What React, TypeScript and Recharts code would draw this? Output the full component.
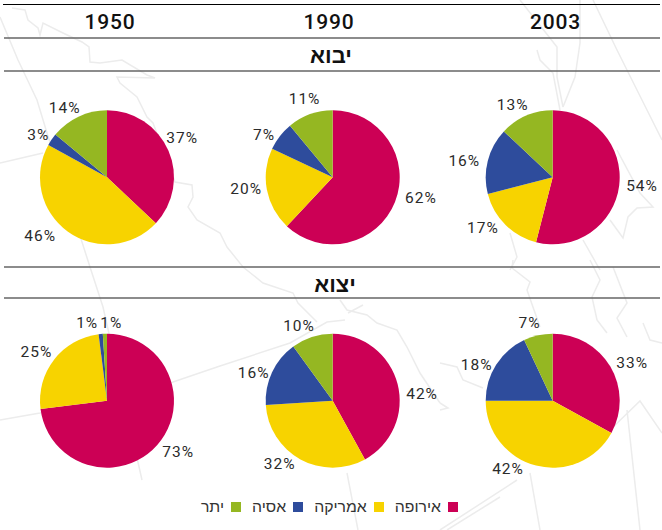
import { Cell, Legend, Pie, PieChart } from "recharts";

const REGIONS = ["אירופה", "אמריקה", "אסיה", "יתר"];
const COLORS = ["#cc0055", "#f7d300", "#2e4c9c", "#95b722"];

const YEARS = ["1950", "1990", "2003"];
const IMPORT_TITLE = "יבוא";
const EXPORT_TITLE = "יצוא";

const import1950 = [37, 46, 3, 14];
const import1990 = [62, 20, 7, 11];
const import2003 = [54, 17, 16, 13];
const export1950 = [73, 25, 1, 1];
const export1990 = [42, 32, 16, 10];
const export2003 = [33, 42, 18, 7];

const WIDTH = 662;
const HEIGHT = 530;
const RADIAN = Math.PI / 180;
const OUTER_RADIUS = 67;
const LABEL_GAP = 16;
const FONT = "'Liberation Sans', Arial, sans-serif";
const LABEL_FONT = "Roboto, 'Liberation Sans', sans-serif";

// where each pie sits, plus hand nudges so the labels land like the original
const PIES = [
  { id: "i1950", values: import1950, cx: 107, cy: 177.3, nudge: [[-1, -6], [-18, -8], [0, 4], [-7, 6]] },
  { id: "i1990", values: import1990, cx: 332.7, cy: 177.3, nudge: [[11, -10], [-5, -4], [-3, 9], [0, 0]] },
  { id: "i2003", values: import2003, cx: 552.7, cy: 177.3, nudge: [[7, -2], [-11, -8], [-8, 4], [-7, 4]] },
  { id: "e1950", values: export1950, cx: 107, cy: 400.7, nudge: [[9, -4], [-5, 2], [-12, 5], [7, 5]] },
  { id: "e1990", values: export1990, cx: 332.7, cy: 400.7, nudge: [[9, 14], [-13, -9], [-4, 8], [-8, 4]] },
  { id: "e2003", values: export2003, cx: 552.7, cy: 400.7, nudge: [[8, 5], [-24, -12], [-6, 9], [-5, 3]] },
];

// faint map outline behind the chart
const MAP_LINES = [
  "0,17 18,60 37,100 47,133 90,267 103,307 142,480",
  "12,8 25,10 28,20 38,28 40,35 43,23 63,33 82,42 89,47 90,62 100,63 122,60 147,75 155,78 117,77 120,83 137,97 147,117 153,123 175,182 192,185 193,197 188,207 197,220 220,233 227,247 243,267 263,283 293,293 298,303 317,322",
  "0,420 40,413 173,382 220,366 290,343 327,322 345,320",
  "0,163 43,153",
  "340,300 347,310 367,315 377,323 397,330 407,347 420,373 440,403",
  "348,313 363,305",
  "347,473 358,530",
  "520,0 557,47 557,77 563,107",
  "537,50 540,60 553,73 560,110",
  "580,0 580,43 575,77 563,107",
  "593,0 617,50 647,110 662,140",
  "617,150 640,193 653,207 637,208 628,217 623,238 610,220",
  "583,240 600,270",
  "510,233 517,257 510,270",
  "513,260 512,268 530,282 527,290 540,327",
  "590,260 600,280 592,297 597,320 607,333",
  "613,267 627,303 617,318 627,337",
  "643,323 650,340 662,343",
  "440,363 457,367 463,380 483,388",
  "440,403 448,408 440,410",
  "610,430 640,401 662,433",
  "627,410 640,530",
  "530,473 540,530",
  "440,530 517,480",
  "447,530 500,497",
];

const renderLabel = (nudge: number[][]) => (props: any) => {
  const { cx, cy, midAngle, outerRadius, index, value } = props;
  const radius = outerRadius + LABEL_GAP;
  const x = cx + radius * Math.cos(-midAngle * RADIAN) + nudge[index][0];
  const y = cy + radius * Math.sin(-midAngle * RADIAN) + nudge[index][1];
  return (
    <text
      x={x}
      y={y}
      fill="#2b2b2b"
      fontFamily={LABEL_FONT}
      fontSize={15.5}
      letterSpacing={1}
      textAnchor="middle"
      dominantBaseline="central"
    >
      {`${value}%`}
    </text>
  );
};

const renderLegend = () => (
  <div
    style={{
      display: "flex",
      direction: "rtl",
      paddingRight: 204,
      fontFamily: FONT,
      fontSize: 15.8,
      color: "#333",
      lineHeight: "18px",
    }}
  >
    {REGIONS.map((region, i) => (
      <div key={region} style={{ display: "flex", alignItems: "center", marginLeft: 11 }}>
        <span style={{ width: 10, height: 10, background: COLORS[i], marginLeft: 7 }} />
        <span>{region}</span>
      </div>
    ))}
  </div>
);

export default function App() {
  return (
    <div style={{ position: "absolute", left: 0, top: 0, width: WIDTH, height: HEIGHT, background: "#fff" }}>
      <svg width={WIDTH} height={HEIGHT} style={{ position: "absolute", left: 0, top: 0 }}>
        {MAP_LINES.map((points) => (
          <polyline key={points} points={points} fill="none" stroke="#ececec" strokeWidth={1.5} />
        ))}
        <line x1={3} x2={660} y1={4.5} y2={4.5} stroke="#000" strokeWidth={1} />
        {[38, 71, 267, 298].map((y) => (
          <line key={y} x1={4} x2={660} y1={y} y2={y} stroke="#666" strokeWidth={1.5} />
        ))}
        {YEARS.map((year, i) => (
          <text
            key={year}
            x={[110, 329, 555.5][i]}
            y={29}
            textAnchor="middle"
            fontFamily={LABEL_FONT}
            fontSize={21}
            fontWeight={500}
            letterSpacing={0.8}
            fill="#111"
          >
            {year}
          </text>
        ))}
        <text x={331} y={63} textAnchor="middle" fontFamily={FONT} fontSize={22} fontWeight="bold" fill="#111">
          {IMPORT_TITLE}
        </text>
        <text x={335} y={292} textAnchor="middle" fontFamily={FONT} fontSize={22} fontWeight="bold" fill="#111">
          {EXPORT_TITLE}
        </text>
      </svg>
      <div style={{ position: "absolute", left: 0, top: 0 }}>
        <PieChart width={WIDTH} height={HEIGHT} margin={{ top: 0, right: 0, bottom: 0, left: 0 }}>
          {PIES.map((pie) => (
            <Pie
              key={pie.id}
              data={pie.values.map((value, i) => ({ name: REGIONS[i], value }))}
              dataKey="value"
              nameKey="name"
              cx={pie.cx}
              cy={pie.cy}
              outerRadius={OUTER_RADIUS}
              startAngle={90}
              endAngle={-270}
              stroke="none"
              labelLine={false}
              label={renderLabel(pie.nudge)}
              isAnimationActive={false}
            >
              {pie.values.map((_value, i) => (
                <Cell key={`cell-${i}`} fill={COLORS[i]} />
              ))}
            </Pie>
          ))}
          <Legend
            content={renderLegend}
            wrapperStyle={{ position: "absolute", left: 0, top: 498, width: WIDTH, height: 20 }}
          />
        </PieChart>
      </div>
    </div>
  );
}
